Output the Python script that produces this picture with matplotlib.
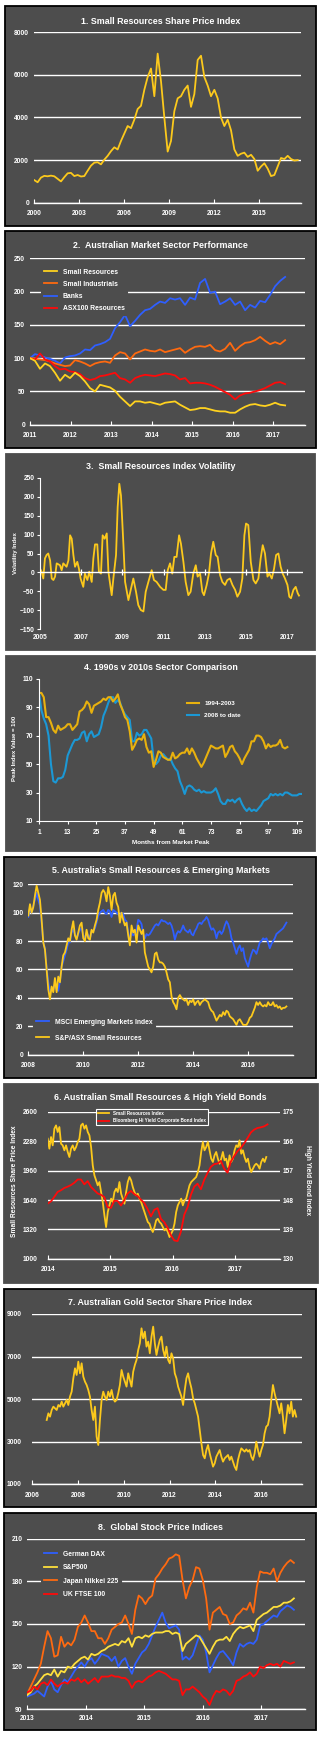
import numpy as np
import matplotlib.pyplot as plt
from matplotlib.patches import Rectangle

# ---------------- data ----------------
# 1. Small Resources share price index, 2000 - mid 2017
p1_index = [1060, 960, 1180, 1260, 1240, 1270, 1240, 1120, 1000, 1200,
            1380, 1400, 1250, 1300, 1230, 1250, 1500, 1740, 1880, 1900,
            1800, 2020, 2200, 2420, 2600, 2500, 2900, 3250, 3600, 3500,
            3900, 4400, 4550, 5300, 5900, 6300, 5000, 7000, 5700, 4000,
            2400, 2900, 4300, 4900, 5000, 5300, 5500, 4500, 5100, 6700,
            6900, 5900, 5500, 5000, 5300, 4900, 4000, 3600, 3900, 3400,
            2500, 2200, 2300, 2350, 2150, 2250, 2050, 1500, 1700, 1850,
            1600, 1250, 1300, 1700, 2100, 2050, 2200, 2050, 1980, 2000]

# 2. Australian market sectors, 2011 = 100
p2_small_res = [100, 96, 84, 92, 88, 78, 66, 75, 70, 78, 73, 65, 55, 50, 60, 58, 56, 51, 42, 35,
                28, 35, 35, 33, 34, 32, 30, 33, 34, 35, 30, 26, 22, 23, 25, 25, 23, 21, 20, 20,
                18, 18, 23, 27, 30, 31, 29, 28, 30, 33, 30, 29]
p2_small_ind = [100, 99, 98, 97, 95, 92, 90, 88, 89, 97, 95, 92, 88, 92, 94, 95, 93, 104, 109, 107,
                98, 107, 110, 113, 111, 110, 113, 109, 111, 113, 115, 108, 113, 117, 118, 117, 120, 112, 110, 114,
                123, 111, 118, 123, 124, 127, 132, 126, 121, 124, 121, 127]
p2_banks = [100, 106, 104, 101, 99, 96, 92, 101, 103, 104, 107, 113, 112, 119, 121, 124, 129, 145, 154, 165,
            148, 156, 165, 172, 174, 180, 185, 183, 190, 188, 190, 180, 191, 188, 213, 219, 198, 200, 181, 185,
            190, 180, 185, 172, 180, 176, 186, 184, 195, 208, 216, 222]
p2_asx100_res = [100, 98, 107, 98, 95, 88, 83, 84, 80, 79, 76, 70, 67, 69, 73, 74, 76, 78, 70, 68,
                 63, 70, 73, 75, 74, 73, 75, 77, 76, 74, 68, 70, 62, 63, 63, 62, 60, 57, 53, 49,
                 45, 38, 44, 47, 48, 50, 52, 55, 59, 63, 64, 61]

# 3. Small Resources index volatility
p3_years = [2005.00, 2005.08, 2005.16, 2005.24, 2005.32, 2005.40, 2005.49, 2005.57, 2005.65, 2005.73,
            2005.81, 2005.97, 2006.05, 2006.13, 2006.29, 2006.38, 2006.46, 2006.54, 2006.62, 2006.70,
            2006.81, 2006.89, 2006.97, 2007.10, 2007.18, 2007.30, 2007.39, 2007.51, 2007.59, 2007.67,
            2007.78, 2007.86, 2007.96, 2008.04, 2008.14, 2008.24, 2008.32, 2008.48, 2008.56, 2008.69,
            2008.77, 2008.85, 2008.93, 2009.05, 2009.13, 2009.29, 2009.42, 2009.53, 2009.66, 2009.77,
            2009.89, 2010.02, 2010.13, 2010.26, 2010.42, 2010.53, 2010.66, 2010.83, 2010.99, 2011.10,
            2011.20, 2011.31, 2011.42, 2011.52, 2011.63, 2011.75, 2011.84, 2011.96, 2012.07, 2012.20,
            2012.31, 2012.44, 2012.56, 2012.65, 2012.77, 2012.88, 2012.96, 2013.09, 2013.20, 2013.30,
            2013.41, 2013.53, 2013.62, 2013.74, 2013.85, 2013.98, 2014.09, 2014.22, 2014.34, 2014.47,
            2014.58, 2014.71, 2014.82, 2014.92, 2015.00, 2015.11, 2015.23, 2015.36, 2015.47, 2015.60,
            2015.71, 2015.81, 2015.92, 2016.04, 2016.13, 2016.25, 2016.36, 2016.46, 2016.57, 2016.68,
            2016.78, 2016.89, 2017.01, 2017.10, 2017.18, 2017.30, 2017.41, 2017.51, 2017.57]
p3_vol = [10, 2, -16, 37, 46, 50, 32, -16, -20, -11,
          24, 19, 6, 24, 15, 32, 98, 89, 46, 15,
          28, 10, -16, -38, -3, -20, 2, -25, 37, 74,
          74, 2, -3, 98, 89, 103, 2, -60, -16, 46,
          173, 234, 203, 72, -25, -73, -42, -16, -51, -86,
          -99, -103, -51, -25, 6, -20, -25, -38, -46, -46,
          6, 24, -3, 41, 41, 98, 76, 28, -25, -60,
          -51, -3, 19, -11, -3, -51, -60, -33, -3, 50,
          81, 46, 41, -7, -25, -33, -20, -16, -33, -46,
          -64, -51, -16, 98, 129, 125, 28, -20, -29, -16,
          37, 72, 50, -11, -3, -16, 10, 46, 50, 15,
          -3, -16, -33, -64, -68, -46, -38, -55, -61]

# 4. months from market peak, peak = 100
p4_1994 = [100, 100, 97, 83, 83, 79, 74, 72, 77, 74, 75, 76, 78, 78, 74, 76, 78, 87, 88, 90,
           94, 92, 86, 91, 92, 93, 94, 96, 95, 97, 97, 94, 96, 99, 92, 88, 83, 81, 73, 60,
           63, 67, 68, 67, 71, 62, 58, 59, 48, 53, 59, 58, 55, 54, 53, 53, 58, 54, 55, 57,
           58, 58, 61, 57, 61, 58, 54, 51, 48, 51, 55, 59, 63, 62, 61, 61, 62, 63, 55, 58,
           62, 63, 59, 57, 54, 50, 54, 57, 60, 66, 66, 70, 70, 69, 66, 61, 64, 62, 63, 63,
           64, 67, 62, 61, 62]
p4_2008 = [100, 88, 82, 78, 70, 50, 38, 37, 40, 40, 41, 46, 56, 60, 64, 67, 67, 68, 72, 73,
           66, 71, 73, 69, 70, 71, 76, 84, 88, 93, 97, 97, 93, 95, 93, 88, 85, 83, 81, 66,
           66, 72, 70, 71, 74, 74, 71, 68, 53, 50, 52, 56, 57, 55, 53, 54, 50, 47, 45, 38,
           34, 29, 34, 35, 34, 32, 31, 32, 30, 31, 30, 30, 30, 31, 33, 29, 24, 22, 22, 25,
           24, 25, 23, 25, 26, 22, 19, 17, 19, 17, 18, 17, 19, 21, 24, 25, 26, 29, 28, 29,
           28, 29, 28, 30, 30, 29, 28, 28, 28, 29, 29]

# 5. small resources v emerging markets
p5_msci = [97, 103, 100, 105, 109, 114, 109, 105, 93, 79, 75, 61, 51, 44, 46, 46, 50, 46, 45, 52,
           62, 66, 70, 74, 79, 79, 86, 88, 85, 82, 85, 88, 89, 84, 82, 86, 84, 82, 87, 87,
           89, 93, 98, 100, 101, 102, 100, 99, 102, 101, 97, 102, 101, 100, 99, 97, 100, 99, 95, 94,
           86, 81, 86, 84, 85, 88, 95, 94, 92, 85, 82, 85, 84, 85, 87, 89, 91, 92, 91, 93,
           95, 94, 94, 93, 92, 93, 91, 87, 81, 85, 87, 86, 88, 91, 88, 87, 86, 88, 85, 84,
           87, 89, 92, 93, 92, 94, 95, 97, 95, 91, 88, 89, 87, 82, 86, 87, 85, 87, 91, 94,
           92, 88, 82, 79, 75, 71, 75, 77, 73, 75, 68, 65, 62, 67, 71, 74, 73, 71, 75, 79,
           80, 82, 81, 82, 79, 75, 78, 80, 82, 85, 86, 87, 88, 89, 91, 93]
p5_small_res = [98, 106, 100, 104, 112, 119, 114, 109, 95, 79, 74, 60, 46, 39, 48, 44, 54, 44, 55, 51,
                62, 70, 72, 77, 82, 80, 88, 94, 84, 81, 86, 91, 93, 82, 80, 88, 82, 81, 88, 86,
                91, 95, 102, 107, 114, 116, 114, 108, 118, 112, 102, 112, 114, 107, 104, 93, 100, 95, 91, 93,
                84, 77, 91, 86, 88, 79, 91, 88, 85, 88, 72, 67, 62, 60, 58, 62, 71, 72, 67, 65,
                65, 64, 62, 58, 53, 51, 41, 37, 35, 32, 40, 42, 40, 39, 38, 39, 35, 38, 37, 39,
                35, 37, 38, 35, 37, 38, 39, 38, 37, 33, 31, 30, 27, 24, 26, 28, 27, 30, 28, 31,
                30, 27, 26, 25, 23, 21, 24, 25, 23, 21, 21, 21, 23, 26, 27, 30, 33, 37, 35, 37,
                35, 34, 35, 34, 37, 35, 35, 37, 34, 35, 33, 34, 32, 33, 33, 34]

# 6. small resources v high yield bonds
p6_small_res = [2309, 2200, 2327, 2236, 2418, 2454, 2382, 2436, 2254, 2236,
                2182, 2236, 2164, 2109, 2200, 2236, 2182, 2218, 2273, 2309,
                2454, 2473, 2418, 2454, 2382, 2345, 2218, 2018, 1909, 1855,
                1800, 1836, 1727, 1618, 1473, 1345, 1509, 1582, 1655, 1618,
                1727, 1764, 1727, 1836, 1709, 1655, 1600, 1727, 1836, 1891,
                1855, 1782, 1727, 1691, 1709, 1655, 1618, 1564, 1509, 1455,
                1400, 1382, 1327, 1291, 1345, 1418, 1436, 1400, 1382, 1345,
                1309, 1327, 1291, 1236, 1273, 1309, 1382, 1509, 1582, 1618,
                1655, 1582, 1636, 1655, 1727, 1800, 1836, 1855, 1873, 1891,
                1945, 2018, 2164, 2273, 2182, 2218, 2273, 2182, 2091, 2055,
                2127, 2164, 2091, 2036, 2091, 2164, 2073, 2091, 2000, 2127,
                2055, 2091, 2182, 2236, 2218, 2291, 2145, 2182, 2109, 2055,
                2091, 2000, 1945, 1982, 2018, 2036, 2018, 1982, 2055, 2091,
                2055, 2109]
p6_hy_bond = [146.9, 147.6, 149, 150.5, 151, 151.7, 152.1, 152.6, 153.3, 154.3,
              154.3, 152.8, 153.8, 152, 151, 150, 149.6, 148.9, 145.8, 145.6,
              147.8, 147.7, 146.3, 148, 150, 150.8, 149.8, 149.2, 148.1, 147.1,
              145.2, 143, 145, 145.5, 142.2, 141.2, 139.5, 137.2, 135.6, 135.4,
              138.3, 143.5, 145.8, 149.6, 152.1, 153, 151.3, 154.2, 156.3, 158.2,
              159, 159.2, 160, 157.6, 156.4, 159.8, 161.5, 163, 164, 165.4,
              167, 168.7, 169.6, 170.1, 170.3, 170.6, 171.2]

# 7. gold sector share price index
p7_gold = [4012, 4326, 4169, 4483, 4640, 4561, 4483, 4718, 4640, 4875,
           4640, 4797, 4954, 4718, 5111, 5346, 5973, 6444, 6130, 6758,
           6209, 6680, 6052, 5817, 5660, 5425, 5111, 4483, 4012, 4640,
           3228, 2836, 4012, 4954, 5346, 5111, 4954, 5346, 5111, 5425,
           5032, 4875, 4954, 5268, 5660, 6366, 6052, 5817, 5582, 6209,
           5895, 5582, 6287, 6601, 6837, 7307, 7621, 8327, 7856, 8170,
           7464, 7700, 7150, 7935, 8405, 7621, 7072, 7464, 7778, 7935,
           7307, 6993, 7464, 6837, 6680, 7150, 6915, 6209, 5973, 5582,
           5346, 5111, 4718, 5425, 5973, 6209, 5817, 5503, 5032, 4797,
           4483, 4169, 3542, 2914, 2365, 2208, 2600, 2836, 2443, 2130,
           1816, 1973, 2287, 2443, 2600, 2287, 2051, 2208, 2287, 2365,
           2130, 2287, 2051, 1816, 1659, 2130, 2443, 2679, 2600, 2522,
           2632, 2522, 2600, 2287, 2130, 2443, 2993, 2600, 2287, 2600,
           2836, 3385, 3699, 3777, 4169, 4954, 5660, 5268, 4954, 4640,
           4326, 4797, 4169, 3385, 4012, 4718, 4326, 4875, 4169, 4483,
           4169]

# 8. global stock indices, 2013 = 100
p8_dax = [99, 100, 101, 103, 101, 99, 106, 110, 104, 102, 107, 111, 109, 113, 117, 120, 123, 120, 124, 126,
          122, 125, 129, 128, 127, 124, 127, 120, 124, 126, 120, 115, 122, 126, 130, 132, 136, 142, 148, 153,
          158, 151, 147, 148, 149, 146, 125, 127, 125, 128, 135, 142, 139, 130, 116, 121, 126, 130, 131, 128,
          125, 121, 130, 136, 134, 136, 137, 136, 139, 149, 150, 152, 154, 156, 155, 159, 161, 163, 162, 160]
p8_sp500 = [100, 102, 106, 108, 111, 114, 115, 114, 118, 113, 117, 116, 120, 119, 122, 124, 126, 127, 125, 129,
            128, 129, 131, 132, 134, 135, 136, 135, 138, 137, 140, 134, 140, 141, 140, 142, 141, 143, 144, 144,
            144, 145, 145, 143, 144, 143, 131, 136, 138, 140, 142, 141, 137, 133, 129, 134, 138, 139, 139, 141,
            138, 143, 146, 148, 147, 148, 149, 145, 153, 155, 157, 158, 160, 162, 162, 163, 165, 165, 166, 168]
p8_nikkei = [101, 106, 111, 116, 122, 134, 145, 140, 127, 128, 141, 134, 137, 135, 139, 148, 151, 156, 151, 145,
             145, 140, 140, 136, 140, 146, 148, 150, 151, 156, 150, 143, 160, 170, 168, 164, 168, 170, 182, 185,
             189, 192, 196, 197, 199, 198, 181, 168, 176, 181, 190, 189, 181, 168, 146, 158, 160, 162, 157, 156,
             150, 151, 156, 158, 161, 160, 165, 158, 176, 187, 186, 186, 185, 189, 180, 186, 190, 193, 195, 193]
p8_ftse = [102, 103, 106, 104, 108, 109, 107, 111, 108, 106, 108, 109, 108, 111, 110, 112, 109, 111, 108, 110,
           112, 109, 113, 113, 113, 114, 113, 113, 112, 112, 110, 105, 109, 110, 109, 111, 113, 114, 116, 117,
           116, 115, 113, 111, 111, 110, 100, 104, 104, 106, 104, 102, 99, 97, 93, 99, 103, 102, 104, 103,
           100, 103, 110, 111, 113, 114, 116, 113, 115, 120, 119, 121, 122, 121, 122, 120, 124, 123, 122, 123]

# ---------------- style ----------------
plt.rcParams['font.family'] = ['Liberation Sans', 'DejaVu Sans']
plt.rcParams['font.weight'] = 'bold'

W, H = 322, 1737
BG = '#4d4d4d'
TS = 4.8
LW = 1.3
YEL = '#fcc91c'
ORANGE = '#ff6a10'
BLUE = '#2f5fff'
RED = '#ff0a0a'

fig = plt.figure(figsize=(W / 100, H / 100), dpi=100)
fig.patch.set_facecolor('white')


def panel(x0, y0, x1, y1, border=True):
    fig.patches.append(Rectangle((x0 / W, 1 - y1 / H), (x1 - x0) / W, (y1 - y0) / H,
                                 transform=fig.transFigure, facecolor=BG, zorder=-10,
                                 edgecolor='black' if border else BG, lw=1.3))


def axes(l, t, r, b):
    ax = fig.add_axes([l / W, 1 - b / H, (r - l) / W, (b - t) / H])
    ax.set_facecolor('none')
    for s in ax.spines.values():
        s.set_visible(False)
    ax.tick_params(colors='white', labelsize=TS, length=0)
    return ax


def title(y, text, x=160.5):
    fig.text(x / W, 1 - y / H, text, color='white', fontsize=6.4,
             fontweight='bold', ha='center', va='center')


def base_axis(ax, xticks, xpad, ypad):
    # white baseline with small upward ticks + white gridlines
    ax.spines['bottom'].set_visible(True)
    ax.spines['bottom'].set_color('white')
    ax.spines['bottom'].set_linewidth(1.0)
    ax.set_xticks(xticks, [str(t) for t in xticks])
    ax.tick_params(axis='x', direction='in', length=3, width=0.8, pad=xpad)
    ax.tick_params(axis='y', pad=ypad)
    ax.yaxis.grid(True, color='white', lw=1.0)
    ax.set_axisbelow(True)


def legend(ax, handles, labels, x, y, fs, spacing, hl=2.0, edge=BG):
    leg = ax.legend(handles, labels, loc='upper left', bbox_to_anchor=(x / W, 1 - y / H),
                    bbox_transform=fig.transFigure, fontsize=fs, frameon=True,
                    facecolor=BG, edgecolor=edge, framealpha=1, fancybox=False,
                    handlelength=hl, handletextpad=0.8, labelspacing=spacing,
                    borderpad=0.4, borderaxespad=0)
    leg.get_frame().set_linewidth(0.8)
    for t in leg.get_texts():
        t.set_color('white')
    return leg


# ------------------ 1. Small resources index ------------------
panel(5, 6, 316, 226)
ax = axes(34.3, 32.3, 301, 202.7)
ax.plot(np.linspace(2000, 2017.56, len(p1_index)), p1_index, color=YEL, lw=LW)
ax.set_xlim(2000, 2017.78)
ax.set_ylim(0, 8000)
ax.set_yticks(range(0, 8001, 2000))
base_axis(ax, [2000, 2003, 2006, 2009, 2012, 2015], 4.9, 3.8)
title(22, "1. Small Resources Share Price Index")

# ------------------ 2. Sector performance ------------------
panel(5, 231, 316, 448)
ax = axes(30, 258.3, 305, 424.7)
x2 = np.linspace(2011, 2017.29, len(p2_banks))
l_bank, = ax.plot(x2, p2_banks, color=BLUE, lw=LW)
l_ind, = ax.plot(x2, p2_small_ind, color=ORANGE, lw=LW)
l_asx, = ax.plot(x2, p2_asx100_res, color=RED, lw=LW)
l_sr, = ax.plot(x2, p2_small_res, color='#ffd21f', lw=LW)
ax.set_xlim(2011, 2017.78)
ax.set_ylim(0, 250)
ax.set_yticks(range(0, 251, 50))
base_axis(ax, list(range(2011, 2018)), 5.1, 3.6)
title(246, "2.  Australian Market Sector Performance")
legend(ax, [l_sr, l_ind, l_bank, l_asx],
       ['Small Resources', 'Small Industrials', 'Banks', 'ASX100 Resources'],
       41, 266, 4.9, 0.75)

# ------------------ 3. Volatility ------------------
panel(6, 454, 315, 650, border=False)
ax = axes(40, 477.7, 302.7, 629.3)
ax.plot(p3_years, p3_vol, color=YEL, lw=LW)
ax.axhline(0, color='white', lw=1.0, zorder=3)
ax.plot(list(range(2007, 2018, 2)), [0] * 6, '|', color='white', ms=5, mew=0.9, zorder=3)
ax.set_xlim(2005, 2017.75)
ax.set_ylim(-150, 250)
ax.spines['left'].set_visible(True)
ax.spines['left'].set_color('white')
ax.set_yticks(range(-150, 251, 50))
ax.tick_params(axis='y', direction='out', length=2.5, width=0.8, pad=1.5)
ax.set_xticks(list(range(2005, 2018, 2)), [str(y) for y in range(2005, 2018, 2)])
ax.tick_params(axis='x', length=0, pad=3.5)
fig.text(15 / W, 1 - 553 / H, 'Volatility Index', color='white', fontsize=4.3,
         rotation=90, ha='center', va='center')
title(466.7, "3.  Small Resources Index Volatility")

# ------------------ 4. 1990s v 2010s ------------------
panel(6, 656, 315, 851, border=False)
ax = axes(39, 678.7, 301.7, 821)
l08, = ax.plot(np.arange(1, len(p4_2008) + 1), p4_2008, color='#1b98d5', lw=1.5)
l94, = ax.plot(np.arange(1, len(p4_1994) + 1), p4_1994, color='#e8b10e', lw=1.5)
ax.set_xlim(1, 111)
ax.set_ylim(10, 110)
for s in ('left', 'bottom'):
    ax.spines[s].set_visible(True)
    ax.spines[s].set_color('white')
ax.set_yticks(range(10, 111, 20))
ax.set_xticks(range(1, 110, 12))
ax.tick_params(direction='out', length=2.5, width=0.8)
ax.tick_params(axis='x', pad=3.0)
ax.tick_params(axis='y', pad=1.8)
fig.text(170.7 / W, 1 - 843 / H, 'Months from Market Peak', color='white', fontsize=4.6,
         ha='center', va='center')
fig.text(15 / W, 1 - 748 / H, 'Peak Index Value = 100', color='white', fontsize=4.3,
         rotation=90, ha='center', va='center')
title(668, "4. 1990s v 2010s Sector Comparison")
legend(ax, [l94, l08], ['1994-2003', '2008 to date'], 184, 698, 4.6, 1.0, hl=2.0)

# ------------------ 5. Emerging markets ------------------
panel(4, 857, 316, 1078)
ax = axes(28.3, 884.3, 293.3, 1054.7)
x5 = np.linspace(2008, 2017.39, len(p5_msci))
l_msci, = ax.plot(x5, p5_msci, color=BLUE, lw=LW)
l_asx5, = ax.plot(x5, p5_small_res, color=YEL, lw=LW)
ax.set_xlim(2008, 2017.64)
ax.set_ylim(0, 120)
ax.set_yticks(range(0, 121, 20))
base_axis(ax, [2008, 2010, 2012, 2014, 2016], 5.1, 3.6)
title(871, "5. Australia's Small Resources & Emerging Markets")
legend(ax, [l_msci, l_asx5], ['MSCI Emerging Markets Index', 'S&P/ASX Small Resources'],
       33, 1016, 4.9, 1.3)

# ------------------ 6. High yield bonds ------------------
panel(4, 1084, 318, 1283, border=False)
ax = axes(47.7, 1112, 280, 1258.7)
l_s6, = ax.plot(np.linspace(2014, 2017.5, len(p6_small_res)), p6_small_res, color=YEL, lw=LW)
ax.set_xlim(2014, 2017.72)
ax.set_ylim(1000, 2600)
ax.set_yticks([1000, 1320, 1640, 1960, 2280, 2600])
base_axis(ax, [2014, 2015, 2016, 2017], 5.1, 7.5)
ax2 = ax.twinx()
ax2.set_facecolor('none')
for s in ax2.spines.values():
    s.set_visible(False)
l_hy, = ax2.plot(np.linspace(2014, 2017.52, len(p6_hy_bond)), p6_hy_bond, color=RED, lw=LW)
ax2.set_ylim(130, 175)
ax2.set_yticks(range(130, 176, 9))
ax2.tick_params(colors='white', labelsize=TS, length=0, pad=2.2)
fig.text(15 / W, 1 - 1181 / H, 'Small Resources Share Price Index', color='white', fontsize=4.8,
         rotation=90, ha='center', va='center')
fig.text(308 / W, 1 - 1180 / H, 'High Yield Bond Index', color='white', fontsize=4.8,
         rotation=-90, ha='center', va='center')
title(1098, "6. Australian Small Resources & High Yield Bonds")
legend(ax2, [l_s6, l_hy], ['Small Resources Index', 'Bloomberg Hi Yield Corporate Bond Index'],
       95.7, 1109, 3.3, 0.5, hl=2.6, edge='white')

# ------------------ 7. Gold sector ------------------
panel(4, 1289, 316, 1507)
ax = axes(32.3, 1314, 301.7, 1484)
ax.plot(np.linspace(2006.63, 2017.54, len(p7_gold)), p7_gold, color=YEL, lw=LW)
ax.set_xlim(2006, 2017.78)
ax.set_ylim(1000, 9000)
ax.set_yticks(range(1000, 9001, 2000))
base_axis(ax, [2006, 2008, 2010, 2012, 2014, 2016], 5.6, 7.5)
title(1302.7, "7. Australian Gold Sector Share Price Index")

# ------------------ 8. Global indices ------------------
panel(4, 1513, 316, 1730)
ax = axes(27.3, 1538.7, 305, 1709.3)
x8 = np.linspace(2013, 2017.56, len(p8_dax))
l_nik, = ax.plot(x8, p8_nikkei, color=ORANGE, lw=LW)
l_dax, = ax.plot(x8, p8_dax, color=BLUE, lw=LW)
l_sp, = ax.plot(x8, p8_sp500, color='#ffe03c', lw=LW)
l_ft, = ax.plot(x8, p8_ftse, color=RED, lw=LW)
ax.set_xlim(2013, 2017.75)
ax.set_ylim(90, 210)
ax.set_yticks(range(90, 211, 30))
base_axis(ax, [2013, 2014, 2015, 2016, 2017], 4.2, 3.4)
title(1527.3, "8.  Global Stock Price Indices")
legend(ax, [l_dax, l_sp, l_nik, l_ft], ['German DAX', 'S&P500', 'Japan Nikkei 225', 'UK FTSE 100'],
       41, 1548, 4.9, 0.95)

fig.savefig('out.png', dpi=100, facecolor='white')
